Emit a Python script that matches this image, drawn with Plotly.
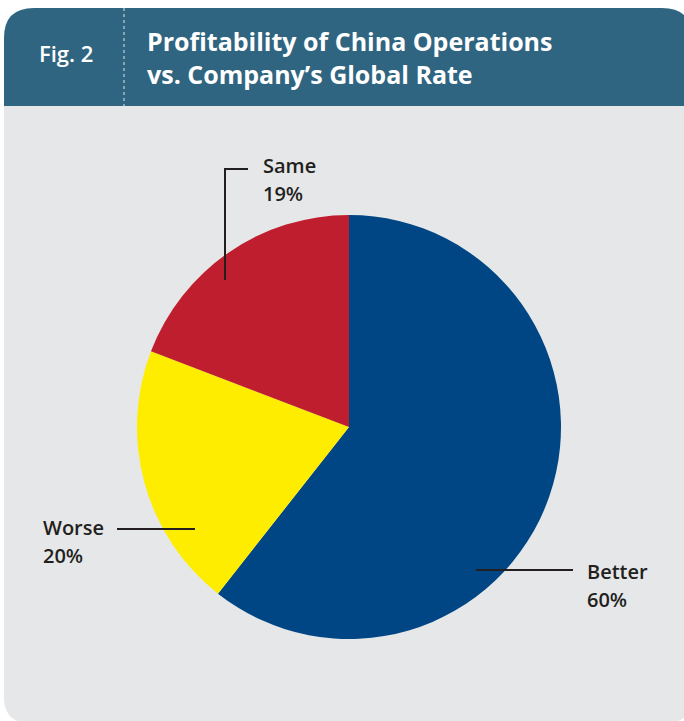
import plotly.graph_objects as go

# Survey responses: profitability of China operations vs. company's global rate
categories = ["Better", "Worse", "Same"]
shares = [60, 20, 19]
slice_colors = ["#004684", "#ffed00", "#be1e2d"]

W, H = 684, 721
HEADER = "#2f6580"
PANEL = "#e6e7e8"
INK = "#231f20"
FONT = "Open Sans"


def px(x):
    return x / W


def py(y):
    return 1 - y / H


def rounded_path(x0, y0, x1, y1, r_tl=0, r_tr=0, r_br=0, r_bl=0):
    """SVG path (paper coords) for a rectangle given in pixels, with per-corner radii."""
    pts = []
    pts.append(f"M{px(x0 + r_tl)},{py(y0)}")
    pts.append(f"L{px(x1 - r_tr)},{py(y0)}")
    if r_tr:
        pts.append(f"Q{px(x1)},{py(y0)} {px(x1)},{py(y0 + r_tr)}")
    pts.append(f"L{px(x1)},{py(y1 - r_br)}")
    if r_br:
        pts.append(f"Q{px(x1)},{py(y1)} {px(x1 - r_br)},{py(y1)}")
    pts.append(f"L{px(x0 + r_bl)},{py(y1)}")
    if r_bl:
        pts.append(f"Q{px(x0)},{py(y1)} {px(x0)},{py(y1 - r_bl)}")
    pts.append(f"L{px(x0)},{py(y0 + r_tl)}")
    if r_tl:
        pts.append(f"Q{px(x0)},{py(y0)} {px(x0 + r_tl)},{py(y0)}")
    pts.append("Z")
    return " ".join(pts)


# Pie placement (pixels)
cx, cy, r = 349, 427, 212

fig = go.Figure(
    go.Pie(
        labels=categories,
        values=shares,
        marker=dict(colors=slice_colors, line=dict(width=0)),
        sort=False,
        direction="clockwise",
        rotation=0,
        textinfo="none",
        hoverinfo="label+value",
        showlegend=False,
        domain=dict(x=[px(cx - r), px(cx + r)], y=[py(cy + r), py(cy - r)]),
    )
)

shapes = [
    # grey panel
    dict(type="path", path=rounded_path(4, 100, 692, 723, r_bl=26, r_br=26),
         fillcolor=PANEL, line=dict(width=0), layer="below"),
    # header band
    dict(type="path", path=rounded_path(4, 8, 692, 106, r_tl=30, r_tr=30),
         fillcolor=HEADER, line=dict(width=0), layer="below"),
    # dotted separator in header
    dict(type="line", x0=px(124), x1=px(124), y0=py(8), y1=py(106),
         line=dict(color="rgba(255,255,255,0.85)", width=1, dash="dot")),
    # leader lines
    dict(type="line", x0=px(225), x1=px(248), y0=py(169), y1=py(169),
         line=dict(color=INK, width=2)),
    dict(type="line", x0=px(225), x1=px(225), y0=py(168), y1=py(280),
         line=dict(color=INK, width=2)),
    dict(type="line", x0=px(117), x1=px(195), y0=py(529), y1=py(529),
         line=dict(color=INK, width=2)),
    dict(type="line", x0=px(476), x1=px(573), y0=py(570), y1=py(570),
         line=dict(color=INK, width=2)),
]

annotations = [
    dict(text="Fig. 2", x=px(66), y=py(53), xanchor="center", yanchor="middle",
         font=dict(family=FONT, size=22, color="white", weight=600)),
    dict(text="Profitability of China Operations<br>vs. Company’s Global Rate",
         x=px(145), y=py(58), xanchor="left", yanchor="middle", align="left",
         font=dict(family=FONT, size=25, color="white", weight=700)),
]

# slice labels: name on first line, share on second
label_pos = {"Same": (261, 165), "Worse": (41, 527), "Better": (585, 571)}
for name, val in zip(categories, shares):
    lx, ly = label_pos[name]
    for i, line in enumerate([name, f"{val}%"]):
        annotations.append(
            dict(text=line, x=px(lx), y=py(ly + 28 * i), xanchor="left",
                 yanchor="middle", showarrow=False,
                 font=dict(family=FONT, size=20, color=INK, weight=600)))

for a in annotations:
    a.setdefault("showarrow", False)
    a["xref"] = "paper"
    a["yref"] = "paper"
for s in shapes:
    s["xref"] = "paper"
    s["yref"] = "paper"

fig.update_layout(
    width=W,
    height=H,
    margin=dict(l=0, r=0, t=0, b=0),
    paper_bgcolor="white",
    plot_bgcolor="white",
    shapes=shapes,
    annotations=annotations,
)

fig.write_html("out.html", config={"displayModeBar": False})
